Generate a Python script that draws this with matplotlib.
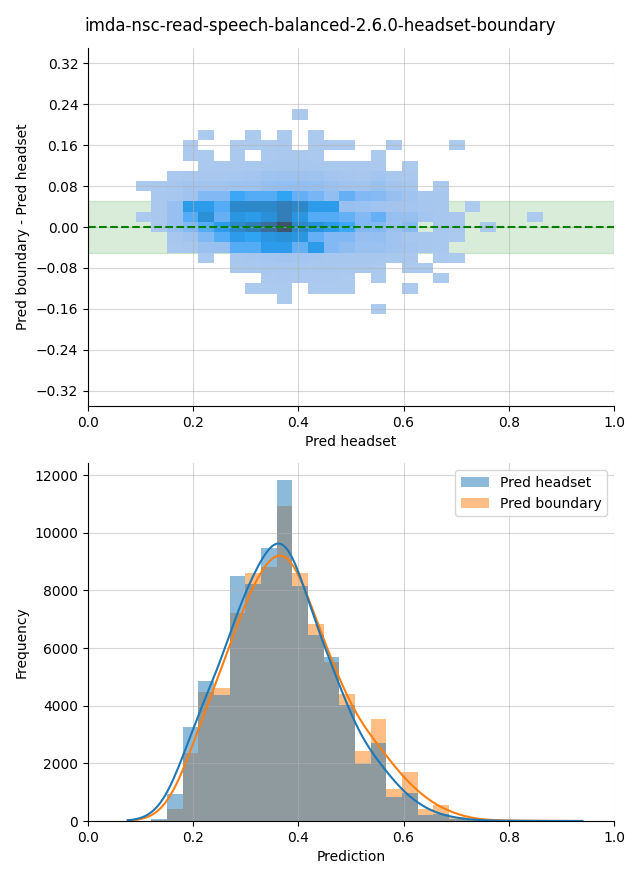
import numpy as np
import pandas as pd
import seaborn as sns
import matplotlib
matplotlib.use('Agg')
import matplotlib.pyplot as plt

title = 'imda-nsc-read-speech-balanced-2.6.0-headset-boundary'
series_names = ['Pred headset', 'Pred boundary']

# prediction bins (same for both panels)
bin_start, bin_width, n_bins = 0.0606, 0.0298, 30

# bottom panel: counts per prediction bin
headset_counts = [5, 15, 60, 940, 3250, 4870, 4380, 8490, 8210, 9460,
                  11830, 8170, 6470, 5700, 4035, 1985, 2720, 845, 990, 215,
                  250, 60, 25, 15, 10, 8, 5, 3, 0, 0]
boundary_counts = [0, 5, 40, 420, 2355, 4470, 4610, 7235, 8615, 8810,
                   10920, 8615, 6850, 5505, 4415, 2435, 3550, 1115, 1705, 415,
                   555, 150, 40, 25, 15, 10, 8, 5, 3, 2]

# top panel: boundary - headset, rows are y-bin centres (top to bottom)
diff_centers = [0.22, 0.20, 0.18, 0.16, 0.14, 0.12, 0.10, 0.08, 0.06, 0.04,
                0.02, 0.00, -0.02, -0.04, -0.06, -0.08, -0.10, -0.12, -0.14, -0.16]
diff_counts = [
    [0, 0, 0, 0, 0, 0, 0, 0, 0, 0, 0, 5, 0, 0, 0, 0, 0, 0, 0, 0, 0, 0, 0, 0, 0, 0, 0, 0, 0, 0],
    [0, 0, 0, 0, 0, 0, 0, 0, 0, 0, 0, 0, 0, 0, 0, 0, 0, 0, 0, 0, 0, 0, 0, 0, 0, 0, 0, 0, 0, 0],
    [0, 0, 0, 0, 0, 5, 0, 0, 5, 0, 5, 0, 5, 0, 0, 0, 0, 0, 0, 0, 0, 0, 0, 0, 0, 0, 0, 0, 0, 0],
    [0, 0, 0, 0, 8, 0, 0, 8, 10, 10, 12, 0, 10, 8, 8, 0, 0, 5, 0, 0, 0, 5, 0, 0, 0, 0, 0, 0, 0, 0],
    [0, 0, 0, 0, 10, 10, 0, 15, 0, 20, 25, 25, 20, 0, 0, 0, 8, 0, 0, 0, 0, 0, 0, 0, 0, 0, 0, 0, 0, 0],
    [0, 0, 0, 0, 0, 20, 25, 35, 45, 55, 60, 60, 50, 40, 30, 25, 20, 0, 8, 0, 0, 0, 0, 0, 0, 0, 0, 0, 0, 0],
    [0, 0, 0, 15, 35, 50, 70, 90, 110, 160, 180, 180, 160, 110, 80, 60, 100, 40, 20, 0, 0, 0, 0, 0, 0, 0, 0, 0, 0, 0],
    [0, 10, 20, 60, 140, 150, 150, 160, 170, 260, 300, 300, 280, 200, 150, 150, 220, 120, 60, 0, 20, 0, 0, 0, 0, 0, 0, 0, 0, 0],
    [0, 0, 30, 60, 150, 450, 450, 930, 800, 800, 1050, 680, 550, 300, 680, 450, 400, 240, 150, 60, 50, 0, 0, 0, 0, 0, 0, 0, 0, 0],
    [0, 0, 40, 240, 1200, 1200, 800, 1700, 1700, 1700, 1950, 1700, 1200, 1200, 240, 200, 150, 120, 100, 80, 60, 0, 10, 0, 0, 0, 0, 0, 0, 0],
    [0, 10, 40, 240, 800, 1500, 680, 1350, 1200, 1500, 1950, 1350, 800, 800, 680, 450, 680, 240, 240, 100, 60, 30, 0, 0, 0, 0, 5, 0, 0, 0],
    [0, 0, 20, 240, 450, 800, 1200, 1700, 1950, 2350, 3000, 1700, 1450, 1200, 930, 450, 450, 200, 400, 0, 60, 40, 0, 5, 0, 0, 0, 0, 0, 0],
    [0, 0, 0, 60, 150, 450, 800, 1200, 1050, 1350, 1500, 1350, 700, 450, 450, 240, 260, 150, 60, 60, 40, 20, 0, 0, 0, 0, 0, 0, 0, 0],
    [0, 0, 0, 30, 60, 200, 240, 800, 800, 1200, 1200, 680, 1200, 450, 320, 200, 200, 150, 100, 60, 40, 0, 0, 0, 0, 0, 0, 0, 0, 0],
    [0, 0, 0, 0, 0, 20, 0, 60, 80, 100, 120, 100, 80, 60, 60, 50, 50, 40, 30, 0, 15, 10, 0, 0, 0, 0, 0, 0, 0, 0],
    [0, 0, 0, 0, 0, 0, 0, 30, 40, 50, 60, 50, 45, 40, 30, 25, 20, 0, 10, 8, 0, 0, 0, 0, 0, 0, 0, 0, 0, 0],
    [0, 0, 0, 0, 0, 0, 0, 0, 0, 20, 25, 20, 20, 15, 10, 0, 8, 0, 0, 0, 5, 0, 0, 0, 0, 0, 0, 0, 0, 0],
    [0, 0, 0, 0, 0, 0, 0, 0, 8, 10, 10, 0, 8, 8, 8, 0, 0, 0, 5, 0, 0, 0, 0, 0, 0, 0, 0, 0, 0, 0],
    [0, 0, 0, 0, 0, 0, 0, 0, 0, 0, 5, 0, 0, 0, 0, 0, 0, 0, 0, 0, 0, 0, 0, 0, 0, 0, 0, 0, 0, 0],
    [0, 0, 0, 0, 0, 0, 0, 0, 0, 0, 0, 0, 0, 0, 0, 0, 5, 0, 0, 0, 0, 0, 0, 0, 0, 0, 0, 0, 0, 0],
]
diff_ticks = [-0.32, -0.24, -0.16, -0.08, 0.0, 0.08, 0.16, 0.24, 0.32]
tolerance = 0.05

edges = bin_start + bin_width * np.arange(n_bins + 1)
centers = (edges[:-1] + edges[1:]) / 2
diff_step = 0.02
diff_edges = np.append(np.array(diff_centers[::-1]) - diff_step / 2, diff_centers[0] + diff_step / 2)

fig = plt.figure(figsize=(6.4, 8.8), dpi=100)
ax1 = fig.add_axes([0.1375, 0.5386, 0.8219, 0.4068])
ax2 = fig.add_axes([0.1375, 0.0670, 0.8219, 0.4068])
fig.suptitle(title, fontsize=12, y=0.970, va='center')

# --- top: 2d histogram of the difference
grid = np.array(diff_counts)
yy, xx = np.meshgrid(diff_centers, centers, indexing='ij')
keep = grid > 0
ax1.axhspan(-tolerance, tolerance, color='green', alpha=0.15, zorder=0)
sns.histplot(x=xx[keep], y=yy[keep], weights=grid[keep],
             bins=[edges, diff_edges], ax=ax1)
ax1.axhline(0, color='green', linestyle='--', linewidth=1.5)
ax1.set_xlim(0, 1)
ax1.set_ylim(-0.35, 0.35)
ax1.set_yticks(diff_ticks)
ax1.set_xlabel('Pred headset')
ax1.set_ylabel('Pred boundary - Pred headset')
ax1.grid(True, alpha=0.5)

# --- bottom: both prediction histograms with kde
df = pd.DataFrame({
    'pred': np.concatenate([centers, centers]),
    'count': headset_counts + boundary_counts,
    'series': [series_names[0]] * n_bins + [series_names[1]] * n_bins,
})
df = df[df['count'] > 0]
# seaborn chokes on an edge array together with weights, so give width + range
sns.histplot(data=df, x='pred', weights='count', hue='series',
             binwidth=bin_width, binrange=(edges[0], edges[-1]),
             kde=True, kde_kws={'bw_adjust': 0.55}, alpha=0.5, linewidth=0, ax=ax2)
ax2.get_legend().set_title(None)
ax2.set_xlim(0, 1)
ax2.set_xlabel('Prediction')
ax2.set_ylabel('Frequency')
ax2.grid(True, alpha=0.5)

sns.despine(fig=fig)
fig.savefig('out.png', dpi=100)
